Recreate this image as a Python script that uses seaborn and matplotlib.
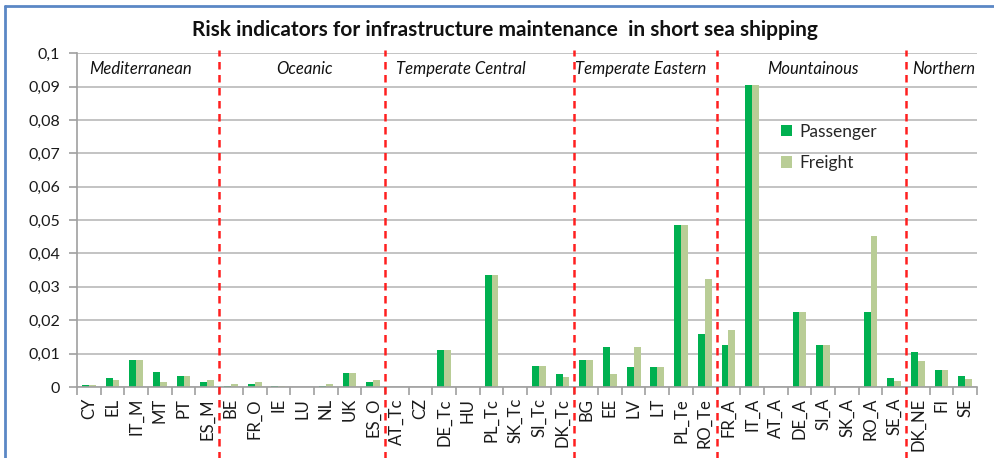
import matplotlib
matplotlib.use("Agg")
import matplotlib.pyplot as plt
from matplotlib.lines import Line2D
from matplotlib.patches import Patch
from matplotlib.ticker import FixedLocator
import pandas as pd
import seaborn as sns

# Member-state / climate-zone codes along the x axis
categories = [
    "CY", "EL", "IT_M", "MT", "PT", "ES_M",
    "BE", "FR_O", "IE", "LU", "NL", "UK", "ES_O",
    "AT_Tc", "CZ", "DE_Tc", "HU", "PL_Tc", "SK_Tc", "SI_Tc", "DK_Tc",
    "BG", "EE", "LV", "LT", "PL_Te", "RO_Te",
    "FR_A", "IT_A", "AT_A", "DE_A", "SI_A", "SK_A", "RO_A", "SE_A",
    "DK_NE", "FI", "SE",
]

passenger = [
    0.0005, 0.0028, 0.0082, 0.0045, 0.0033, 0.0015,
    0.0003, 0.0010, 0.0003, 0.0, 0.0003, 0.0043, 0.0015,
    0.0, 0.0, 0.0112, 0.0, 0.0334, 0.0, 0.0062, 0.0040,
    0.0080, 0.0121, 0.0059, 0.0059, 0.0485, 0.0160,
    0.0125, 0.0905, 0.0, 0.0224, 0.0125, 0.0, 0.0224, 0.0026,
    0.0104, 0.0052, 0.0033,
]

freight = [
    0.0005, 0.0022, 0.0082, 0.0015, 0.0033, 0.0020,
    0.0008, 0.0015, 0.0003, 0.0, 0.0010, 0.0043, 0.0022,
    0.0, 0.0, 0.0112, 0.0, 0.0334, 0.0, 0.0062, 0.0030,
    0.0080, 0.0040, 0.0121, 0.0059, 0.0485, 0.0322,
    0.0170, 0.0905, 0.0, 0.0224, 0.0125, 0.0, 0.0453, 0.0019,
    0.0077, 0.0052, 0.0024,
]

# Climate regions: label and the last category index belonging to each
regions = ["Mediterranean", "Oceanic", "Temperate Central",
           "Temperate Eastern", "Mountainous", "Northern"]
region_label_x = [2.16, 9.12, 15.7, 23.3, 30.55, 36.08]
region_ends = [5, 12, 20, 26, 34]

y_ticks = [0, 0.01, 0.02, 0.03, 0.04, 0.05, 0.06, 0.07, 0.08, 0.09, 0.1]
y_tick_labels = ["0", "0,01", "0,02", "0,03", "0,04", "0,05",
                 "0,06", "0,07", "0,08", "0,09", "0,1"]

series_names = ["Passenger", "Freight"]
colors = {"Passenger": "#00B050", "Freight": "#B9CD96"}

df = pd.DataFrame({
    "code": categories * 2,
    "mode": ["Passenger"] * len(categories) + ["Freight"] * len(categories),
    "risk": passenger + freight,
})

sns.set_theme(style="white")
plt.rcParams["font.family"] = ["Lato", "DejaVu Sans"]

fig = plt.figure(figsize=(9.95, 4.58), dpi=100)
ax = fig.add_axes([0.0774, 0.155, 0.9046, 0.729])

sns.barplot(data=df, x="code", y="risk", hue="mode", order=categories,
            hue_order=series_names, palette=colors, width=0.58, gap=0,
            saturation=1, linewidth=0, legend=False, ax=ax)

ax.set_xlim(-0.5, len(categories) - 0.5)
ax.set_ylim(0, 0.1)
ax.set_xlabel("")
ax.set_ylabel("")

# Horizontal grid
ax.set_yticks(y_ticks)
ax.set_yticklabels(y_tick_labels, fontsize=11.5, color="#1A1A1A")
ax.yaxis.grid(True, color="#BEBEBE", linewidth=1.3)
ax.set_axisbelow(True)
ax.tick_params(axis="y", length=6, width=1.2, color="#A0A0A0", pad=6, left=True)

# Category labels at centres, tick marks at the boundaries
ax.set_xticks(range(len(categories)))
ax.set_xticklabels(categories, rotation=90, fontsize=12, color="#1A1A1A")
ax.tick_params(axis="x", which="major", length=0, pad=8)
ax.xaxis.set_minor_locator(FixedLocator([i - 0.5 for i in range(len(categories) + 1)]))
ax.tick_params(axis="x", which="minor", length=6, width=1.2, color="#A0A0A0", bottom=True)

for side in ["top", "right"]:
    ax.spines[side].set_visible(False)
for side in ["left", "bottom"]:
    ax.spines[side].set_color("#A0A0A0")
    ax.spines[side].set_linewidth(1.2)

# Region separators
for end in region_ends:
    ax.axvline(end + 0.5, ymin=-0.22, ymax=1.01, color="#FF1F1F", linewidth=1.8,
               linestyle=(0, (3, 2.2)), clip_on=False, zorder=3)

for name, xpos in zip(regions, region_label_x):
    ax.text(xpos, 0.0951, name, ha="center", va="center", fontsize=12,
            style="italic", color="#111111")

handles = [Patch(facecolor=colors[s], edgecolor="none", label=s) for s in series_names]
ax.legend(handles=handles, loc="upper left", bbox_to_anchor=(765 / 995, 1 - 108 / 458),
          bbox_transform=fig.transFigure, frameon=False, fontsize=12.5,
          handlelength=0.65, handleheight=0.65, handletextpad=0.45, labelspacing=0.9)

fig.text(505 / 995, 1 - 30 / 458,
         "Risk indicators for infrastructure maintenance  in short sea shipping",
         ha="center", va="center", fontsize=15, fontweight="bold", color="#111111")

# Chart frame
fig.add_artist(Line2D([5 / 995, 1.0], [1 - 6 / 458, 1 - 6 / 458],
                      transform=fig.transFigure, color="#5B87C5", linewidth=2))
fig.add_artist(Line2D([5 / 995, 5 / 995], [0.0, 1 - 6 / 458],
                      transform=fig.transFigure, color="#5B87C5", linewidth=2))

fig.savefig("out.png", dpi=100, facecolor="white")
